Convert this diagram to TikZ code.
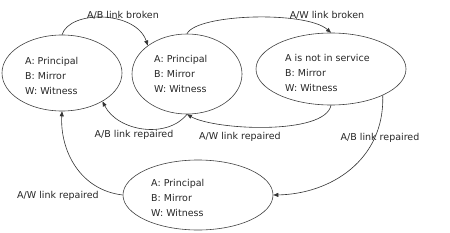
\documentclass[tikz,border=0pt]{standalone}
\usepackage{fontspec}
\setmainfont{DejaVu Sans}
\usetikzlibrary{shapes.geometric,arrows.meta}
\begin{document}
\begin{tikzpicture}[x=1pt,y=-1pt,
  state/.style={draw=black!75, line width=0.6pt, ellipse, inner sep=0pt},
  txt/.style={font=\fontsize{9.5}{15}\selectfont, text=black!85, align=left, anchor=west, inner sep=0pt},
  lbl/.style={font=\fontsize{9.5}{11}\selectfont, text=black!85, inner sep=0pt},
  link/.style={draw=black!80, line width=0.6pt, -{Triangle[length=5pt,width=4pt]}}]
\useasboundingbox (0,0) rectangle (450,233);
\node[state, minimum width=120pt, minimum height=76pt] (e1) at (62,73) {};
\node[state, minimum width=110pt, minimum height=80pt] (e2) at (187,74) {};
\node[state, minimum width=150pt, minimum height=72pt] (e3) at (331,69) {};
\node[state, minimum width=150pt, minimum height=70pt] (e4) at (198,195) {};
\node[txt] (t1) at (25,76) {A: Principal\\B: Mirror\\W: Witness};
\node[txt] (t2) at (154,74) {A: Principal\\B: Mirror\\W: Witness};
\node[txt] (t3) at (285,73) {A is not in service\\B: Mirror\\W: Witness};
\node[txt] (t4) at (151,198) {A: Principal\\B: Mirror\\W: Witness};
\draw[link] (e1.north) .. controls +(8,-25) and +(-12,-35) .. (e2.144);
\draw[link] (e2.north) .. controls +(10,-20) and +(-25,-22) .. (e3.north);
\draw[link] (e2.south) .. controls +(-20,25) and +(15,30) .. (e1.-35);
\draw[link] (e3.south) .. controls +(-6,30) and +(28,16) .. (e2.south);
\draw[link] (e3.-27) .. controls +(2,65) and +(57,-1) .. (e4.east);
\draw[link] (e4.west) .. controls +(-43,-5) and +(-2,39) .. (e1.south);
\node[lbl] (l1) at (123,15) {A/B link broken};
\node[lbl] (l2) at (327,15) {A/W link broken};
\node[lbl] (l3) at (134,135) {A/B link repaired};
\node[lbl] (l4) at (240,137) {A/W link repaired};
\node[lbl] (l5) at (380,138) {A/B link repaired};
\node[lbl] (l6) at (58,196) {A/W link repaired};
\end{tikzpicture}
\end{document}
